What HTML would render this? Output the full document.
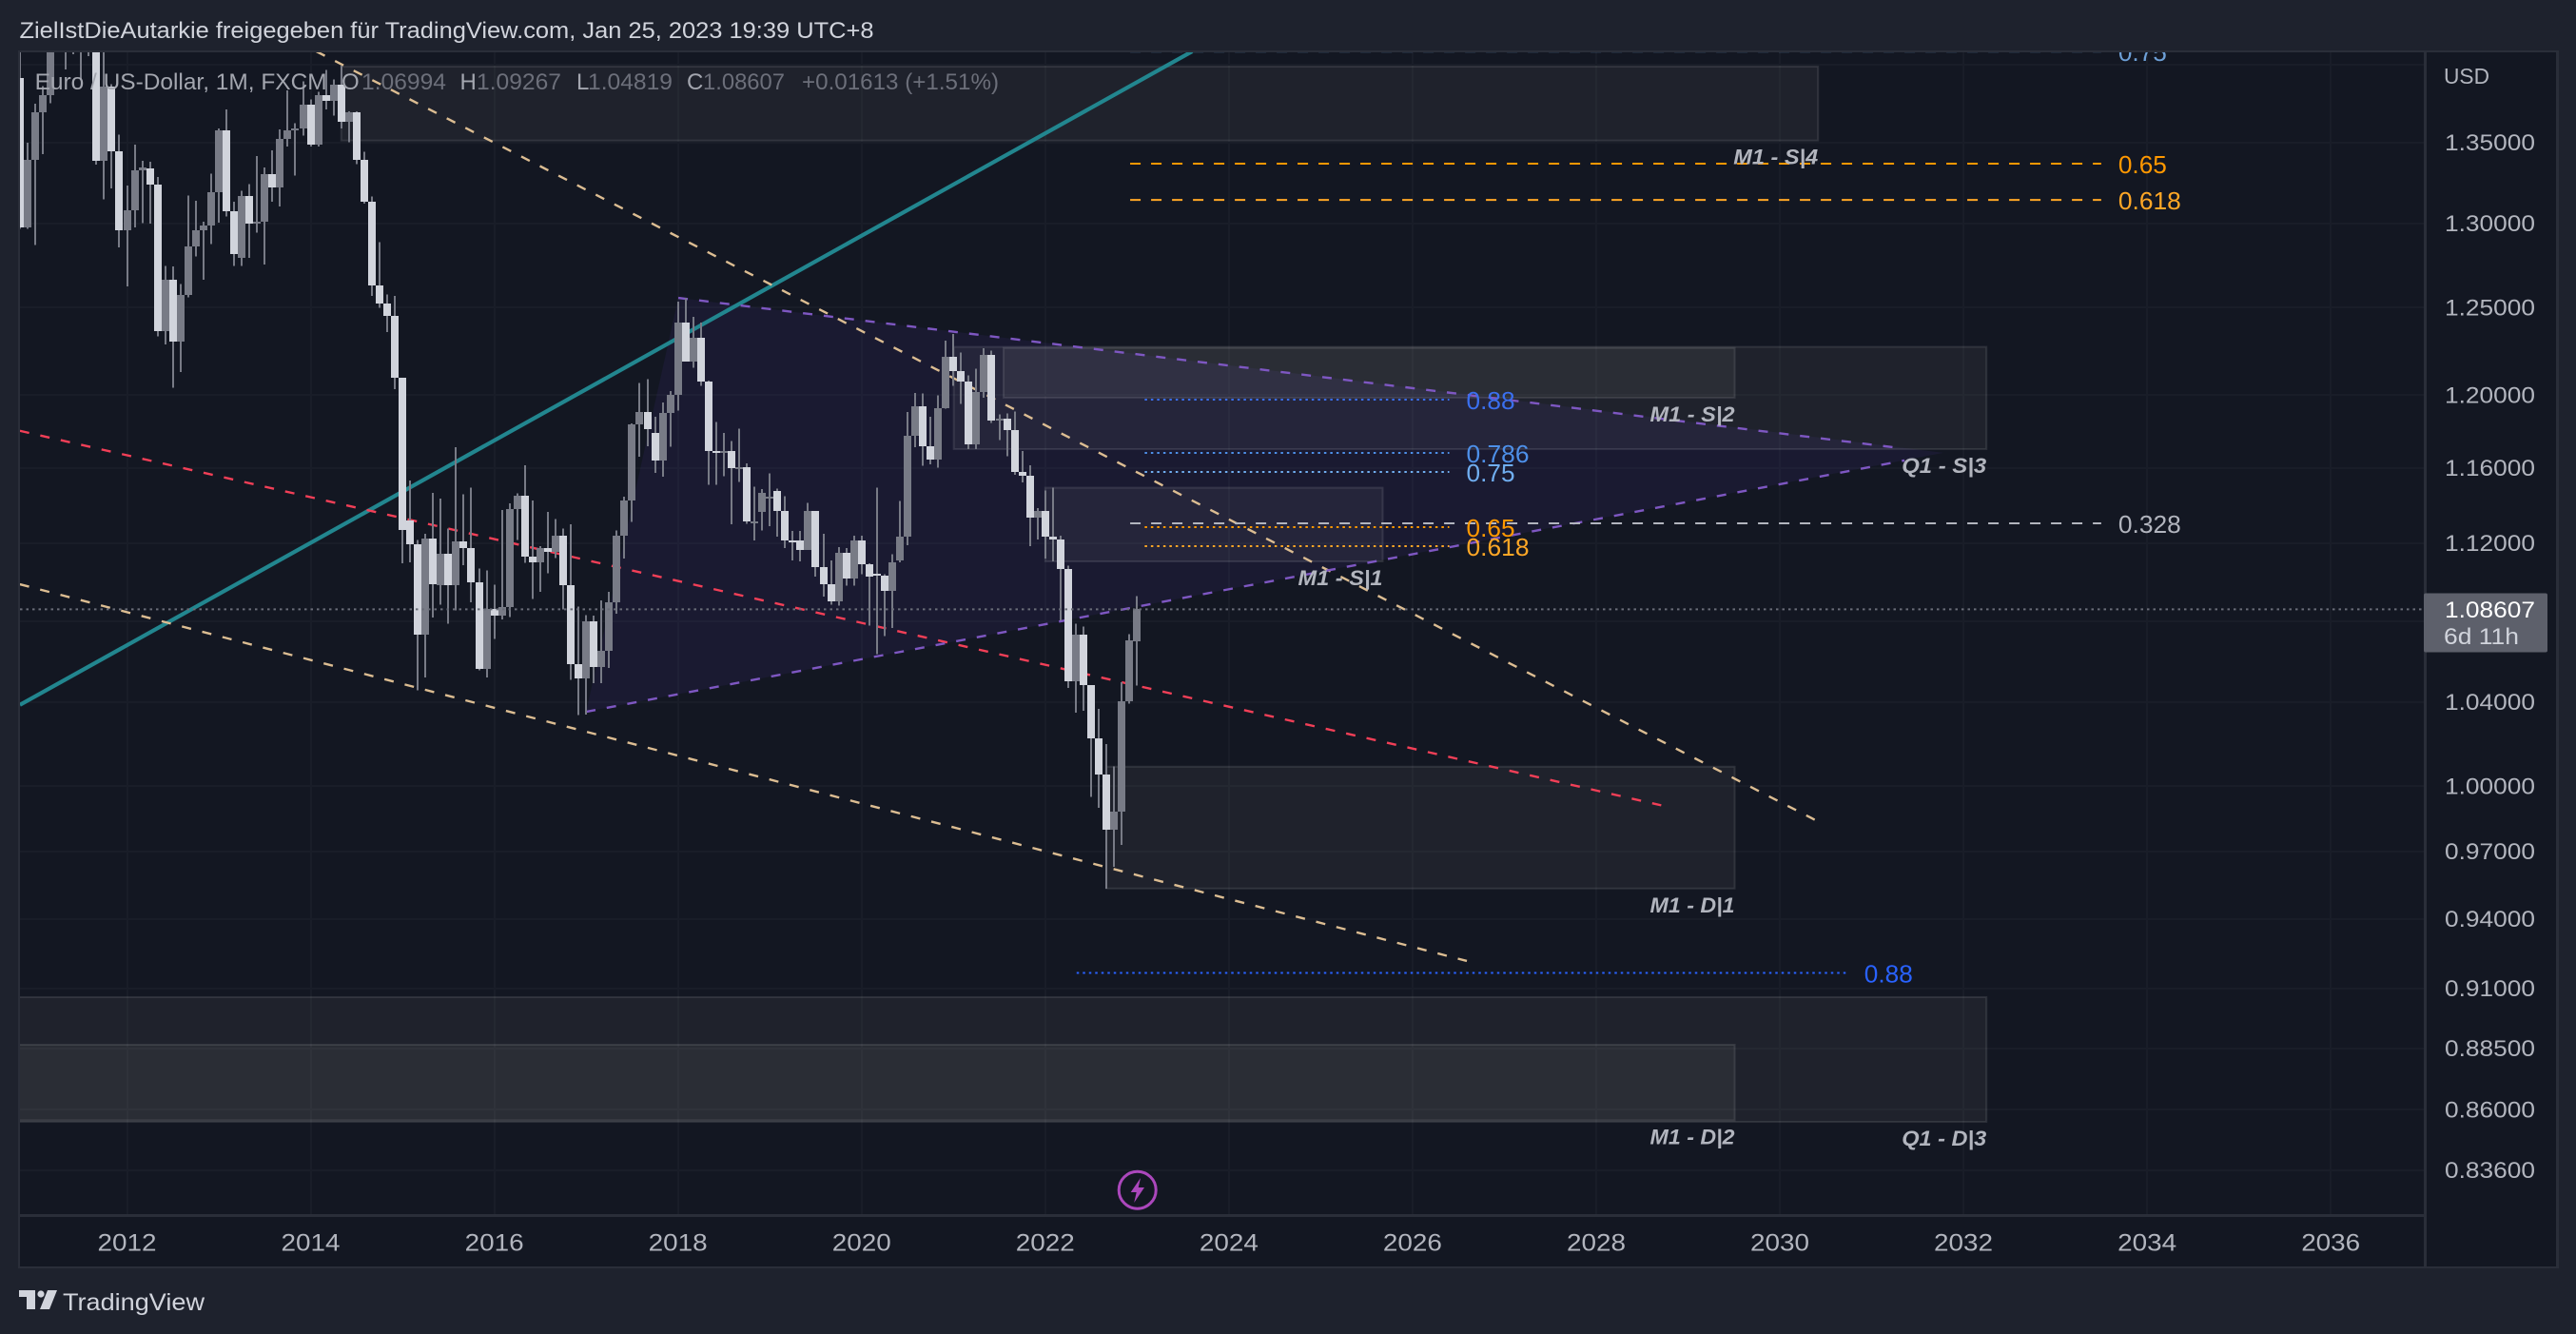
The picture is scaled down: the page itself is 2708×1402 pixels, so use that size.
<!DOCTYPE html>
<html lang="de">
<head>
<meta charset="utf-8">
<title>Euro / US-Dollar, 1M, FXCM</title>
<style>
html,body{margin:0;padding:0;background:#1e222d;width:2708px;height:1402px;overflow:hidden}
svg{display:block;font-family:"Liberation Sans",sans-serif}
</style>
</head>
<body>
<svg id="chart" width="2708" height="1402" viewBox="0 0 2708 1402" xmlns="http://www.w3.org/2000/svg">
  <defs><clipPath id="plotClip"><rect x="21" y="55" width="2527" height="1221"/></clipPath></defs>
  <rect x="0" y="0" width="2708" height="1402" fill="#1e222d"/>
  <rect x="20" y="54" width="2668" height="1278" fill="#131722"/>
  <g id="gridLayer" shape-rendering="crispEdges"></g>
  <g clip-path="url(#plotClip)">
    <g id="drawLayer"></g>
    <g id="candleLayer" shape-rendering="crispEdges"></g>
    <g id="lastLayer"></g>
    <g id="fibText"></g>
    <g id="zoneText"></g>
    <g>
      <circle cx="1195.7" cy="1250.7" r="19.5" fill="#131722" stroke="#ab47bc" stroke-width="3"/>
      <path d="M1199 1238 L1188.7 1253 L1194.7 1253 L1192.2 1264 L1203 1248 L1196.7 1248 Z" fill="#ab47bc"/>
    </g>
  </g>
  <g shape-rendering="crispEdges">
    <rect x="20" y="53" width="2669" height="2" fill="#2a2e39"/>
    <rect x="19" y="53" width="2" height="1280" fill="#2a2e39"/>
    <rect x="2687" y="53" width="3" height="1280" fill="#2a2e39"/>
    <rect x="20" y="1331" width="2669" height="2" fill="#2a2e39"/>
    <rect x="2548" y="54" width="3" height="1278" fill="#2a2e39"/>
    <rect x="20" y="1276" width="2530" height="3" fill="#2a2e39"/>
  </g>
  <g id="priceAxis" font-size="24" fill="#b2b5be"></g>
  <g id="timeAxis" font-size="25" fill="#b2b5be" text-anchor="middle"></g>
  <text x="2569" y="88" font-size="23" fill="#b2b5be" textLength="48" lengthAdjust="spacingAndGlyphs">USD</text>
  <rect x="2548" y="623.5" width="130" height="62" rx="2" fill="#5d606b"/>
  <text x="2570" y="649" font-size="24" fill="#ffffff" textLength="95" lengthAdjust="spacingAndGlyphs">1.08607</text>
  <text x="2569" y="677" font-size="24" fill="#d1d4dc" textLength="79" lengthAdjust="spacingAndGlyphs">6d 11h</text>
  <text x="20.5" y="40" font-size="24" fill="#d1d4dc" textLength="898" lengthAdjust="spacingAndGlyphs">ZielIstDieAutarkie freigegeben für TradingView.com, Jan 25, 2023 19:39 UTC+8</text>
  <g font-size="24">
    <text x="36.6" y="94" fill="#a3a6af" textLength="307" lengthAdjust="spacingAndGlyphs">Euro / US-Dollar, 1M, FXCM</text>
    <text x="359" y="94" fill="#a3a6af">O</text>
    <text x="380" y="94" fill="#6c6f7a" textLength="89" lengthAdjust="spacingAndGlyphs">1.06994</text>
    <text x="483.5" y="94" fill="#a3a6af">H</text>
    <text x="501" y="94" fill="#6c6f7a" textLength="89" lengthAdjust="spacingAndGlyphs">1.09267</text>
    <text x="606" y="94" fill="#a3a6af">L</text>
    <text x="618" y="94" fill="#6c6f7a" textLength="89" lengthAdjust="spacingAndGlyphs">1.04819</text>
    <text x="722" y="94" fill="#a3a6af">C</text>
    <text x="739" y="94" fill="#6c6f7a" textLength="86" lengthAdjust="spacingAndGlyphs">1.08607</text>
    <text x="843" y="94" fill="#6c6f7a" textLength="207" lengthAdjust="spacingAndGlyphs">+0.01613 (+1.51%)</text>
  </g>
  <g>
    <path d="M20 1356 H37 V1376 H28 V1363 H20 Z" fill="#d1d4dc"/>
    <circle cx="43" cy="1360" r="3.6" fill="#d1d4dc"/>
    <path d="M50 1356 H60 L52 1376 H42 Z" fill="#d1d4dc"/>
    <text x="66" y="1377" font-size="25" fill="#d1d4dc" textLength="149" lengthAdjust="spacingAndGlyphs">TradingView</text>
  </g>
</svg>
<script>
// Monthly bars: index 0 = Nov 2010, last index = Jan 2023
const months = [
"2010-11","2010-12",
"2011-01","2011-02","2011-03","2011-04","2011-05","2011-06","2011-07","2011-08","2011-09","2011-10","2011-11","2011-12",
"2012-01","2012-02","2012-03","2012-04","2012-05","2012-06","2012-07","2012-08","2012-09","2012-10","2012-11","2012-12",
"2013-01","2013-02","2013-03","2013-04","2013-05","2013-06","2013-07","2013-08","2013-09","2013-10","2013-11","2013-12",
"2014-01","2014-02","2014-03","2014-04","2014-05","2014-06","2014-07","2014-08","2014-09","2014-10","2014-11","2014-12",
"2015-01","2015-02","2015-03","2015-04","2015-05","2015-06","2015-07","2015-08","2015-09","2015-10","2015-11","2015-12",
"2016-01","2016-02","2016-03","2016-04","2016-05","2016-06","2016-07","2016-08","2016-09","2016-10","2016-11","2016-12",
"2017-01","2017-02","2017-03","2017-04","2017-05","2017-06","2017-07","2017-08","2017-09","2017-10","2017-11","2017-12",
"2018-01","2018-02","2018-03","2018-04","2018-05","2018-06","2018-07","2018-08","2018-09","2018-10","2018-11","2018-12",
"2019-01","2019-02","2019-03","2019-04","2019-05","2019-06","2019-07","2019-08","2019-09","2019-10","2019-11","2019-12",
"2020-01","2020-02","2020-03","2020-04","2020-05","2020-06","2020-07","2020-08","2020-09","2020-10","2020-11","2020-12",
"2021-01","2021-02","2021-03","2021-04","2021-05","2021-06","2021-07","2021-08","2021-09","2021-10","2021-11","2021-12",
"2022-01","2022-02","2022-03","2022-04","2022-05","2022-06","2022-07","2022-08","2022-09","2022-10","2022-11","2022-12",
"2023-01"];
const opens = [
1.3914,1.2977,
1.3395,1.3693,1.3805,1.4165,1.4807,1.4395,1.4502,1.4395,1.4364,1.3387,1.3857,1.3445,
1.2961,1.3082,1.3326,1.3337,1.3240,1.2365,1.2667,1.2304,1.2577,1.2860,1.2960,1.2988,
1.3193,1.3578,1.3076,1.2796,1.3167,1.2998,1.3012,1.3302,1.3221,1.3526,1.3580,1.3591,
1.3743,1.3487,1.3801,1.3769,1.3869,1.3635,1.3690,1.3390,1.3132,1.2629,1.2525,1.2452,
1.2098,1.1320,1.1196,1.0731,1.1224,1.0985,1.1143,1.0985,1.1211,1.1177,1.1000,1.0565,
1.0861,1.0831,1.0873,1.1380,1.1451,1.1131,1.1103,1.1174,1.1157,1.1240,1.0984,1.0588,
1.0517,1.0798,1.0574,1.0652,1.0895,1.1241,1.1426,1.1839,1.1908,1.1790,1.1640,1.1902,
1.2005,1.2413,1.2193,1.2324,1.2079,1.1693,1.1684,1.1690,1.1600,1.1604,1.1313,1.1364,
1.1440,1.1477,1.1371,1.1217,1.1215,1.1167,1.1370,1.1076,1.0990,1.0899,1.1151,1.1018,
1.1213,1.1093,1.1040,1.1031,1.0955,1.1110,1.1234,1.1778,1.1937,1.1718,1.1646,1.1929,
1.2216,1.2136,1.2076,1.1731,1.2021,1.2227,1.1858,1.1869,1.1809,1.1580,1.1558,1.1337,
1.1370,1.1235,1.1218,1.1067,1.0500,1.0733,1.0483,1.0226,1.0054,0.9800,0.9884,1.0404,
1.06994];
const highs = [
1.4282,1.3500,
1.3748,1.3862,1.4250,1.4820,1.4940,1.4698,1.4578,1.4548,1.4280,1.4248,1.3872,1.3550,
1.3234,1.3488,1.3387,1.3380,1.3285,1.2745,1.2743,1.2640,1.3172,1.3140,1.3013,1.3308,
1.3590,1.3711,1.3133,1.3202,1.3243,1.3416,1.3345,1.3452,1.3584,1.3832,1.3622,1.3893,
1.3775,1.3825,1.3967,1.3905,1.3993,1.3700,1.3700,1.3444,1.3166,1.2887,1.2577,1.2570,
1.2098,1.1534,1.1218,1.1250,1.1467,1.1436,1.1278,1.1714,1.1460,1.1495,1.1069,1.1059,
1.0987,1.1376,1.1410,1.1465,1.1615,1.1425,1.1185,1.1366,1.1327,1.1278,1.1300,1.0875,
1.0830,1.0829,1.0906,1.0950,1.1268,1.1445,1.1845,1.2070,1.2092,1.1880,1.1961,1.2024,
1.2537,1.2556,1.2446,1.2414,1.2082,1.1852,1.1791,1.1746,1.1815,1.1625,1.1500,1.1486,
1.1570,1.1489,1.1448,1.1265,1.1265,1.1412,1.1282,1.1250,1.1110,1.1179,1.1176,1.1239,
1.1239,1.1095,1.1495,1.1040,1.1143,1.1423,1.1908,1.2012,1.2011,1.1880,1.2000,1.2309,
1.2349,1.2243,1.2113,1.2149,1.2266,1.2254,1.1895,1.1900,1.1909,1.1692,1.1615,1.1386,
1.1480,1.1495,1.1240,1.1085,1.0787,1.0773,1.0483,1.0368,1.0198,1.0094,1.0497,1.0736,
1.09267];
const lows = [
1.2969,1.2969,
1.2870,1.3429,1.3750,1.4105,1.3968,1.4070,1.3902,1.4055,1.3362,1.3148,1.3216,1.2857,
1.2624,1.2977,1.3004,1.3000,1.2335,1.2288,1.2042,1.2131,1.2562,1.2802,1.2664,1.2877,
1.3005,1.3043,1.2747,1.2745,1.2795,1.2945,1.2755,1.3135,1.3104,1.3475,1.3295,1.3545,
1.3477,1.3477,1.3712,1.3673,1.3590,1.3503,1.3366,1.3123,1.2570,1.2501,1.2358,1.2034,
1.1097,1.1100,1.0457,1.0520,1.0818,1.0885,1.0787,1.0854,1.1086,1.0895,1.0557,1.0520,
1.0711,1.0810,1.0822,1.1217,1.1098,1.0912,1.0950,1.1045,1.1122,1.0859,1.0508,1.0339,
1.0341,1.0494,1.0494,1.0568,1.0839,1.1120,1.1312,1.1662,1.1718,1.1575,1.1553,1.1717,
1.1916,1.2190,1.2155,1.2054,1.1510,1.1509,1.1556,1.1301,1.1526,1.1302,1.1215,1.1268,
1.1290,1.1234,1.1176,1.1110,1.1107,1.1181,1.1027,1.0926,1.0885,1.0878,1.0980,1.0980,
1.1040,1.0778,1.0636,1.0727,1.0766,1.1100,1.1190,1.1712,1.1612,1.1621,1.1602,1.1925,
1.2054,1.1952,1.1704,1.1704,1.1986,1.1847,1.1752,1.1665,1.1563,1.1523,1.1185,1.1220,
1.1120,1.1107,1.0805,1.0470,1.0349,1.0358,0.9952,0.9900,0.9535,0.9632,0.9730,1.0394,
1.04819];
const closes = [
1.2977,1.3395,
1.3693,1.3805,1.4165,1.4807,1.4395,1.4502,1.4395,1.4364,1.3387,1.3857,1.3445,1.2961,
1.3082,1.3326,1.3344,1.3240,1.2365,1.2667,1.2304,1.2577,1.2860,1.2960,1.2988,1.3193,
1.3578,1.3076,1.2818,1.3167,1.2998,1.3012,1.3302,1.3221,1.3526,1.3580,1.3591,1.3743,
1.3487,1.3801,1.3769,1.3869,1.3635,1.3690,1.3390,1.3132,1.2629,1.2525,1.2452,1.2098,
1.1272,1.1196,1.0731,1.1224,1.0987,1.1143,1.0985,1.1211,1.1177,1.1000,1.0565,1.0861,
1.0831,1.0873,1.1380,1.1451,1.1131,1.1103,1.1174,1.1157,1.1240,1.0984,1.0588,1.0517,
1.0798,1.0574,1.0652,1.0895,1.1241,1.1426,1.1839,1.1908,1.1813,1.1640,1.1902,1.2005,
1.2413,1.2193,1.2324,1.2079,1.1693,1.1684,1.1690,1.1600,1.1604,1.1313,1.1316,1.1467,
1.1447,1.1371,1.1217,1.1215,1.1167,1.1370,1.1076,1.0990,1.0899,1.1151,1.1018,1.1213,
1.1093,1.1029,1.1031,1.0955,1.1100,1.1234,1.1778,1.1937,1.1718,1.1646,1.1929,1.2216,
1.2136,1.2076,1.1731,1.2021,1.2227,1.1858,1.1869,1.1809,1.1580,1.1558,1.1337,1.1370,
1.1235,1.1218,1.1067,1.0500,1.0733,1.0483,1.0226,1.0054,0.9800,0.9884,1.0404,1.0705,
1.08607];

// Axis ticks
const priceTicks = [1.40,1.35,1.30,1.25,1.20,1.16,1.12,1.08,1.04,1.00,0.97,0.94,0.91,0.885,0.86,0.836];
const priceTickLabels = ["","1.35000","1.30000","1.25000","1.20000","1.16000","1.12000","","1.04000","1.00000","0.97000","0.94000","0.91000","0.88500","0.86000","0.83600"];
const yearTicks = [2012,2014,2016,2018,2020,2022,2024,2026,2028,2030,2032,2034,2036];

// Drawings in data space: bar index and price
const zoneNames  = ["M1 - S|4","Q1 - S|3","M1 - S|2","M1 - S|1","M1 - D|1","Q1 - D|3","M1 - D|2"];
const zoneStart  = [42, 122.05, 128.55, 134, 142, -10, -10];
const zoneEnd    = [235, 257, 224.1, 178.1, 224.1, 257, 224.1];
const zoneTop    = [1.3988, 1.2274, 1.2268, 1.1494, 1.0092, 0.9064, 0.8865];
const zoneBottom = [1.3514, 1.1703, 1.1987, 1.1106, 0.9535, 0.8552, 0.8558];

const lineNames  = ["support-trendline-teal","mid-trendline-red","lower-trendline-tan","upper-trendline-tan","triangle-upper-edge","triangle-lower-edge"];
const lineStartI = [0, 0, 0, 38.75, 86.05, 74];
const lineEndI   = [153.2, 214.5, 189.1, 235.7, 244.8, 246.3];
const lineStartP = [1.0387, 1.1803, 1.0988, 1.4087, 1.2558, 1.0354];
const lineEndP   = [1.4087, 0.9912, 0.9218, 0.9825, 1.1713, 1.1641];
const lineColors = ["#22868f","#f23f57","#dcbd92","#dcbd92","#7e57c2","#7e57c2"];

const triangleI = [74, 86.05, 251.4];
const triangleP = [1.0354, 1.2558, 1.1683];

const fibLabels = ["0.75","0.65","0.618","0.328","0.88","0.786","0.75","0.65","0.618","0.88"];
const fibPrices = [1.4087,1.3369,1.3145,1.1305,1.1976,1.1682,1.1579,1.1285,1.1185,0.9167];
const fibStart  = [145.1,145.1,145.1,145.1,147,147,147,147,147,138.1];
const fibEnd    = [272,272,272,272,186.8,186.8,186.8,186.8,186.8,238.8];
const fibColors = ["#6d9fd6","#ff9800","#ffa726","#b2b5be","#3a6fee","#4d8fe8","#70aef0","#ff9800","#ffa726","#2962ff"];
const fibDotted = [false,false,false,false,true,true,true,true,true,true];

const lastIndex = closes.length - 1;
const lastClose = closes[lastIndex];

// Axis functions
const xOf = i => 20.9 + 8.044 * i;
const xOfYear = y => xOf(months.indexOf(y + "-01") >= 0 ? months.indexOf(y + "-01") : (y - 2010) * 12 - 10);
const yOf = p => 150 + (Math.log(1.35) - Math.log(p)) * 2254;

const NS = "http://www.w3.org/2000/svg";
function mk(parent, tag, attrs, text) {
  const el = document.createElementNS(NS, tag);
  for (const k in attrs) el.setAttribute(k, attrs[k]);
  if (text !== undefined) el.textContent = text;
  parent.appendChild(el);
  return el;
}
const gridLayer = document.getElementById("gridLayer");
const drawLayer = document.getElementById("drawLayer");
const candleLayer = document.getElementById("candleLayer");
const lastLayer = document.getElementById("lastLayer");
const fibText = document.getElementById("fibText");
const zoneText = document.getElementById("zoneText");
const priceAxis = document.getElementById("priceAxis");
const timeAxis = document.getElementById("timeAxis");

// Grid and axes
priceTicks.forEach((p, i) => {
  const y = Math.round(yOf(p));
  const g = mk(gridLayer, "rect", {x: 21, y: y - 1, width: 2527, height: 2, fill: "#191d28"});
  
  
  if (priceTickLabels[i]) {
    const t = mk(priceAxis, "text", {x: 2570, y: yOf(p) + 8, textLength: 95, lengthAdjust: "spacingAndGlyphs"}, priceTickLabels[i]);
    
    
  }
});
yearTicks.forEach(yr => {
  const x = xOfYear(yr);
  const g = mk(gridLayer, "rect", {x: Math.round(x) - 1, y: 55, width: 2, height: 1221, fill: "#191d28"});
  
  
  const t = mk(timeAxis, "text", {x: x, y: 1314.5, textLength: 62, lengthAdjust: "spacingAndGlyphs"}, String(yr));
  
  
});

// Triangle fill
const triPts = triangleI.map((i, k) => xOf(i) + "," + yOf(triangleP[k])).join(" ");
const tri = mk(drawLayer, "polygon", {points: triPts, fill: "rgba(90,58,190,0.1)"});



// Zones
zoneNames.forEach((name, i) => {
  const x0 = xOf(zoneStart[i]), x1 = xOf(zoneEnd[i]), y0 = yOf(zoneTop[i]), y1 = yOf(zoneBottom[i]);
  const r = mk(drawLayer, "rect", {x: x0, y: y0, width: x1 - x0, height: y1 - y0, fill: "rgba(255,255,240,0.05)", stroke: "rgba(255,255,255,0.1)", "stroke-width": 2});
  
  
  const t = mk(zoneText, "text", {x: x1, y: y1 + 25, "text-anchor": "end", "font-size": 22, "font-weight": "bold", "font-style": "italic", fill: "#b2b5be", textLength: 89, lengthAdjust: "spacingAndGlyphs"}, name);
  
  
});

// Trendlines
lineNames.forEach((name, i) => {
  const solid = i === 0;
  const l = mk(drawLayer, "line", {x1: xOf(lineStartI[i]), y1: yOf(lineStartP[i]), x2: xOf(lineEndI[i]), y2: yOf(lineEndP[i]), stroke: lineColors[i], "stroke-width": solid ? 4.2 : 2.4, "stroke-dasharray": solid ? "none" : "10 12"});
  
  
  l.setAttribute('data-series', name);
});

// Fib levels
fibLabels.forEach((label, i) => {
  const y = yOf(fibPrices[i]), x1 = xOf(fibEnd[i]);
  const l = mk(drawLayer, "line", {x1: xOf(fibStart[i]), y1: y, x2: x1, y2: y, stroke: fibColors[i], "stroke-width": 2, "stroke-dasharray": fibDotted[i] ? "2.5 4" : "11 11"});
  
  
  const t = mk(fibText, "text", {x: x1 + 18, y: y + 10, "font-size": 26, fill: fibColors[i], textLength: label.length > 4 ? 66 : 51, lengthAdjust: "spacingAndGlyphs"}, label);
  
  
});

// Candles
closes.forEach((c, i) => {
  const o = opens[i], h = highs[i], l = lows[i];
  const cx = Math.round(xOf(i));
  const up = c >= o;
  const top = Math.round(yOf(Math.max(o, c)));
  const bot = Math.round(yOf(Math.min(o, c)));
  const wick = mk(candleLayer, "rect", {x: cx - 1, y: yOf(h), width: 2, height: yOf(l) - yOf(h), fill: "#787b86"});
  
  
  const body = mk(candleLayer, "rect", {x: cx - 4, y: top, width: 8, height: Math.max(2, bot - top), fill: up ? "#787b86" : "#d1d4dc"});
  
  
});

// Last price line
const lastLine = mk(lastLayer, "line", {x1: 21, y1: yOf(lastClose), x2: 2548, y2: yOf(lastClose), stroke: "#6a6d78", "stroke-width": 2, "stroke-dasharray": "2.5 4"});


</script>
</body>
</html>
